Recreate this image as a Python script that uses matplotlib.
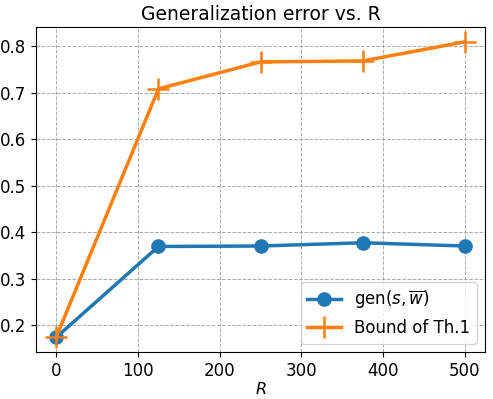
import numpy as np
import matplotlib.pyplot as plt

R = [0, 125, 250, 375, 500]
gen = [0.174, 0.369, 0.370, 0.377, 0.370]
bound = [0.175, 0.708, 0.766, 0.768, 0.809]

fig = plt.figure(figsize=(4.93, 3.99), dpi=100)
ax = fig.add_subplot(111)
fig.subplots_adjust(left=0.073, right=0.984, top=0.932, bottom=0.118)

ax.plot(R, gen, marker='o', markersize=9.5, linewidth=2.5, label=r'gen$(s,\overline{w})$')
ax.plot(R, bound, marker='+', markersize=16, markeredgewidth=1.8, linewidth=2.5, label='Bound of Th.1')

ax.grid(True, linestyle='--', color='#aaaaaa', linewidth=0.7)
ax.set_title('Generalization error vs. R', fontsize=13.5, pad=5)
ax.set_xlabel(r'$R$', fontsize=11.5, labelpad=1)
ax.tick_params(labelsize=12)
ax.legend(loc='lower right', fontsize=12)

fig.savefig('out.png', dpi=100)
